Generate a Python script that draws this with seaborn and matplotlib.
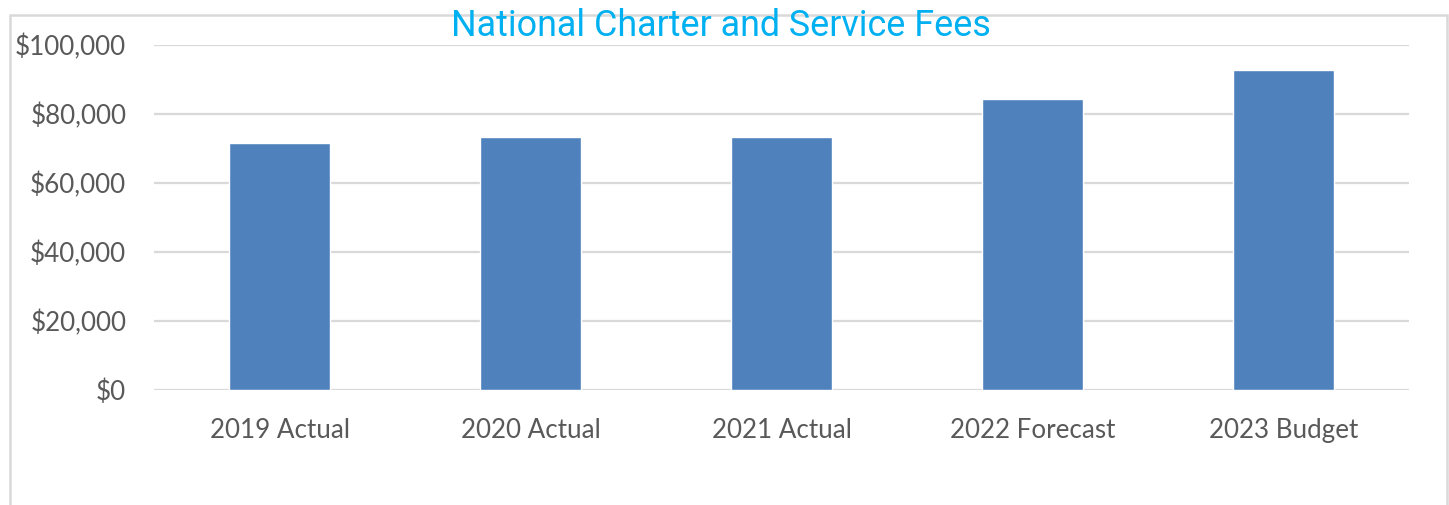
import matplotlib
matplotlib.use("Agg")
import matplotlib.pyplot as plt
from matplotlib.patches import Rectangle
from matplotlib.ticker import FuncFormatter
import seaborn as sns
import pandas as pd

categories = ["2019 Actual", "2020 Actual", "2021 Actual", "2022 Forecast", "2023 Budget"]
fees = [71700, 73200, 73200, 84300, 92700]
y_ticks = [0, 20000, 40000, 60000, 80000, 100000]

df = pd.DataFrame({"category": categories, "fees": fees})

sns.set_theme(style="white")
plt.rcParams["font.family"] = ["Lato", "DejaVu Sans"]

W, H = 1449, 505
fig = plt.figure(figsize=(W / 100, H / 100), dpi=100)
ax = fig.add_axes([154 / W, (H - 390) / H, 1255 / W, 345 / H])

sns.barplot(data=df, x="category", y="fees", color="#4F81BD", saturation=1,
            width=0.4, ax=ax, zorder=3)

ax.set_ylim(0, 100000)
ax.set_xlim(-0.5, len(categories) - 0.5)
ax.set_yticks(y_ticks)
ax.yaxis.set_major_formatter(FuncFormatter(lambda v, p: f"${v:,.0f}"))
ax.grid(axis="y", color="#D9D9D9", linewidth=1.6, zorder=0)
ax.set_axisbelow(True)
for s in ax.spines.values():
    s.set_visible(False)
ax.tick_params(axis="y", length=0, pad=20, labelsize=18.7, labelcolor="#595959")
ax.tick_params(axis="x", length=0, pad=20, labelsize=18.7, labelcolor="#595959")
ax.set_xlabel("")
ax.set_ylabel("")

# chart-area frame
frame = Rectangle((10 / W, -0.2), (1447 - 10) / W, 0.2 + (H - 15) / H,
                  transform=fig.transFigure, fill=False, edgecolor="#D9D9D9",
                  linewidth=1.8, clip_on=False)
fig.patches.append(frame)

fig.text(721 / W, (H - 36) / H, "National Charter and Service Fees",
         ha="center", va="baseline", color="#00B0F0", fontsize=25.8,
         family=["Roboto", "DejaVu Sans"])

fig.savefig("out.png", dpi=100, facecolor="white")
